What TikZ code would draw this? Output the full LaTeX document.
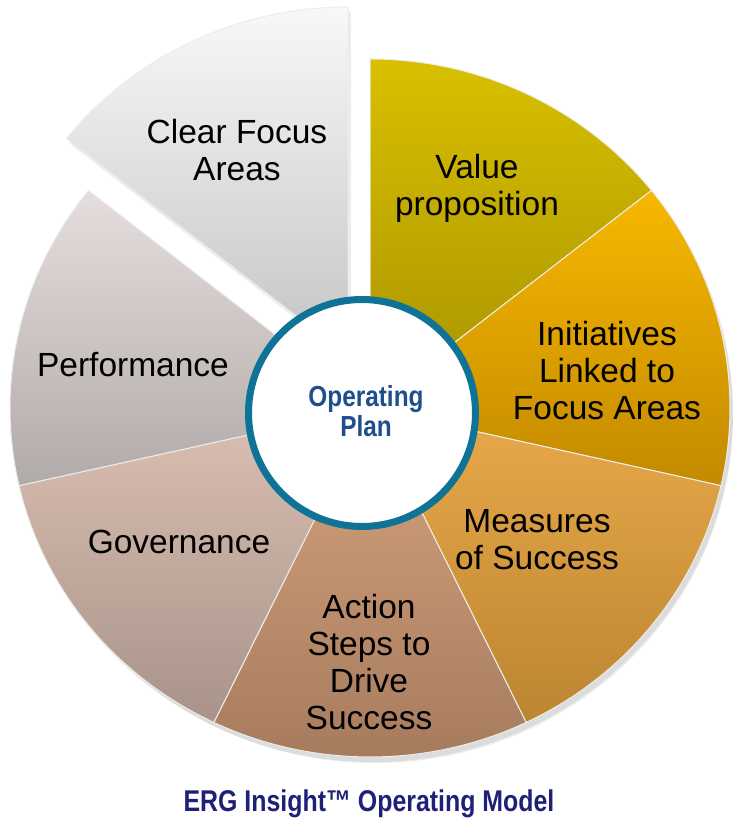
\documentclass[tikz,border=0pt]{standalone}
\usepackage{fontspec}
\usepackage{graphicx}
\setmainfont{Liberation Sans}
\usetikzlibrary{calc}

\definecolor{cfTop}{RGB}{248,248,248}
\definecolor{cfBot}{RGB}{196,196,196}
\definecolor{vpTop}{RGB}{216,192,0}
\definecolor{vpBot}{RGB}{168,146,0}
\definecolor{inTop}{RGB}{247,184,0}
\definecolor{inBot}{RGB}{195,138,0}
\definecolor{msTop}{RGB}{233,169,74}
\definecolor{msBot}{RGB}{188,133,48}
\definecolor{asTop}{RGB}{214,164,126}
\definecolor{asBot}{RGB}{165,122,92}
\definecolor{gvTop}{RGB}{220,192,178}
\definecolor{gvBot}{RGB}{168,147,138}
\definecolor{pfTop}{RGB}{230,222,222}
\definecolor{pfBot}{RGB}{176,170,168}
\definecolor{ringBlue}{RGB}{14,115,150}
\definecolor{planBlue}{RGB}{30,78,140}
\definecolor{titleNavy}{RGB}{31,33,120}

\begin{document}
\begin{tikzpicture}[
  x=1pt, y=1pt,
  every node/.style={align=center},
  lbl/.style={font=\fontsize{33.5}{37}\selectfont, text=black},
  wedge/.style={draw=white!85!gray, line width=1pt},
  shade/.style={fill=black, opacity=0.07}
]
\useasboundingbox (0,0) rectangle (737,830);
\fill[white] (0,0) rectangle (737,830);

\coordinate (ctr) at (370,422);
\coordinate (cfc) at (348,474);

% soft shadow
\fill[shade] ($(ctr)+(3,-5)$) -- ++(90:360 and 349)
  arc[start angle=90, end angle=-218.57, x radius=360, y radius=349] -- cycle;
\fill[shade] ($(ctr)+(5,-8)$) -- ++(90:358 and 347)
  arc[start angle=90, end angle=-218.57, x radius=358, y radius=347] -- cycle;
\fill[shade] ($(cfc)+(3,-5)$) -- ++(90:360 and 349)
  arc[start angle=90, end angle=141.43, x radius=360, y radius=349] -- cycle;

% slices
\path[wedge, top color=vpTop, bottom color=vpBot] (ctr) -- ++(38.57:360 and 349)
  arc[start angle=38.57, end angle=90, x radius=360, y radius=349] -- cycle;
\path[wedge, top color=inTop, bottom color=inBot] (ctr) -- ++(-12.86:360 and 349)
  arc[start angle=-12.86, end angle=38.57, x radius=360, y radius=349] -- cycle;
\path[wedge, top color=msTop, bottom color=msBot] (ctr) -- ++(-64.29:360 and 349)
  arc[start angle=-64.29, end angle=-12.86, x radius=360, y radius=349] -- cycle;
\path[wedge, top color=asTop, bottom color=asBot] (ctr) -- ++(-115.71:360 and 349)
  arc[start angle=-115.71, end angle=-64.29, x radius=360, y radius=349] -- cycle;
\path[wedge, top color=gvTop, bottom color=gvBot] (ctr) -- ++(192.86:360 and 349)
  arc[start angle=192.86, end angle=244.29, x radius=360, y radius=349] -- cycle;
\path[wedge, top color=pfTop, bottom color=pfBot] (ctr) -- ++(141.43:360 and 349)
  arc[start angle=141.43, end angle=192.86, x radius=360, y radius=349] -- cycle;
\path[wedge, top color=cfTop, bottom color=cfBot] (cfc) -- ++(90:360 and 349)
  arc[start angle=90, end angle=141.43, x radius=360, y radius=349] -- cycle;

% centre
\node[circle, draw=ringBlue, line width=7pt, fill=white, minimum size=227pt,
  inner sep=0pt] (ring) at (362,417) {};
\node[text=planBlue, font=\bfseries\fontsize{29}{28}\selectfont] (plan) at (366,415)
  {\scalebox{0.84}[1]{\begin{tabular}{@{}c@{}}Operating\\Plan\end{tabular}}};

% labels
\node[lbl] (cfa) at (237,680) {Clear Focus\\Areas};
\node[lbl] (vp) at (477,642) {Value\\proposition};
\node[lbl] (ini) at (607,459) {Initiatives\\Linked to\\Focus Areas};
\node[lbl] (mos) at (537,290) {Measures\\of Success};
\node[lbl] (asd) at (369,168) {Action\\Steps to\\Drive\\Success};
\node[lbl] (gov) at (179,288) {Governance};
\node[lbl] (perf) at (133,465) {Performance};

\node[text=titleNavy, font=\bfseries\fontsize{30}{32}\selectfont] (ttl) at (369,26)
  {\scalebox{0.83}[1]{ERG Insight™ Operating Model}};
\end{tikzpicture}
\end{document}
